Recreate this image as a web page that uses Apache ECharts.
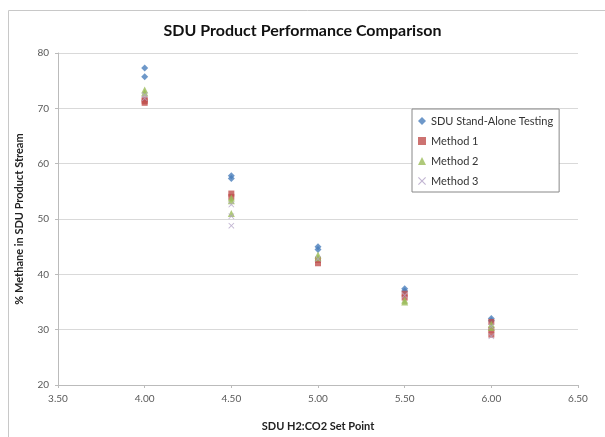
<!DOCTYPE html>
<html>
<head>
<meta charset="utf-8">
<script src="https://cdn.jsdelivr.net/npm/echarts@6/dist/echarts.min.js"></script>
<style>
  html, body { margin: 0; padding: 0; background: #fff; }
  #chart { width: 605px; height: 437px; }
</style>
</head>
<body>
<div id="chart"></div>
<script>
// set points on the x axis
const setPoints = [4.0, 4.5, 5.0, 5.5, 6.0];

// readings at each set point (one inner list per set point)
const standAlone = [[77.3, 75.7], [57.8, 57.3], [45.0, 44.5], [37.4, 37.0], [32.0, 31.6]];
const method1 = [[71.6, 71.0, 71.3], [54.6, 54.0], [42.6, 42.0], [36.5, 35.8], [31.4, 30.0, 29.1]];
const method2 = [[73.3, 72.8], [53.8, 53.3, 51.0], [43.5, 43.0], [35.0, 35.3], [31.0, 30.4]];
const method3 = [[72.4, 71.8], [52.6, 50.5, 48.8], [42.8], [36.2], [30.6, 28.8]];

const seriesNames = ["SDU Stand-Alone Testing", "Method 1", "Method 2", "Method 3"];

function toPoints(groups) {
    const pts = [];
    groups.forEach((vals, i) => {
        vals.forEach(v => pts.push([setPoints[i], v]));
    });
    return pts;
}

const xMark = 'path://M0,1L1,0L5,4L9,0L10,1L6,5L10,9L9,10L5,6L1,10L0,9L4,5Z';

const chart = echarts.init(document.getElementById('chart'));

const font = 'Lato, "Open Sans", sans-serif';

const option = {
    animation: false,
    textStyle: { fontFamily: font },
    graphic: [{
        type: 'rect',
        shape: { x: 8.5, y: 10.5, width: 620, height: 440 },
        style: { fill: 'none', stroke: '#c8c8c8', lineWidth: 1 },
        silent: true
    }],
    title: {
        text: 'SDU Product Performance Comparison',
        left: 'center',
        top: 18,
        textStyle: { fontSize: 16, fontWeight: 'bold', color: '#111', fontFamily: font }
    },
    grid: { left: 58, right: 27, top: 53, bottom: 48 },
    legend: {
        orient: 'vertical',
        left: 412,
        top: 109,
        width: 141,
        padding: [5, 6, 4, 6],
        itemGap: 6,
        itemWidth: 8,
        itemHeight: 8,
        backgroundColor: '#fff',
        borderColor: '#888',
        borderWidth: 1,
        textStyle: { fontSize: 11, color: '#333', fontFamily: font, lineHeight: 14 },
        data: seriesNames
    },
    xAxis: {
        type: 'value',
        min: 3.5,
        max: 6.5,
        interval: 0.5,
        name: 'SDU H2:CO2 Set Point',
        nameLocation: 'middle',
        nameGap: 36,
        nameTextStyle: { fontSize: 11, fontWeight: 'bold', color: '#222' },
        axisLine: { lineStyle: { color: '#bbb' } },
        axisTick: { show: true, length: 3, lineStyle: { color: '#bbb' } },
        axisLabel: { fontSize: 10, color: '#595959', formatter: v => v.toFixed(2), margin: 9 },
        splitLine: { show: false }
    },
    yAxis: {
        type: 'value',
        min: 20,
        max: 80,
        interval: 10,
        name: '% Methane in SDU Product Stream',
        nameLocation: 'middle',
        nameGap: 33,
        nameTextStyle: { fontSize: 11, fontWeight: 'bold', color: '#222' },
        axisLine: { show: true, lineStyle: { color: '#bbb' } },
        axisTick: { show: true, length: 3, lineStyle: { color: '#bbb' } },
        axisLabel: { fontSize: 10, color: '#595959', margin: 9 },
        splitLine: { lineStyle: { color: '#d9d9d9' } }
    },
    series: [
        {
            name: seriesNames[0], type: 'scatter', symbol: 'diamond', symbolSize: 7,
            itemStyle: { color: '#4a7ebb' }, data: toPoints(standAlone)
        },
        {
            name: seriesNames[1], type: 'scatter', symbol: 'rect', symbolSize: 6,
            itemStyle: { color: '#c0504d' }, data: toPoints(method1)
        },
        {
            name: seriesNames[2], type: 'scatter', symbol: 'triangle', symbolSize: 7,
            itemStyle: { color: '#9bbb59' }, data: toPoints(method2)
        },
        {
            name: seriesNames[3], type: 'scatter', symbol: xMark, symbolSize: 6,
            itemStyle: { color: '#b3a2c7' }, data: toPoints(method3)
        }
    ]
};

chart.setOption(option);
</script>
</body>
</html>
